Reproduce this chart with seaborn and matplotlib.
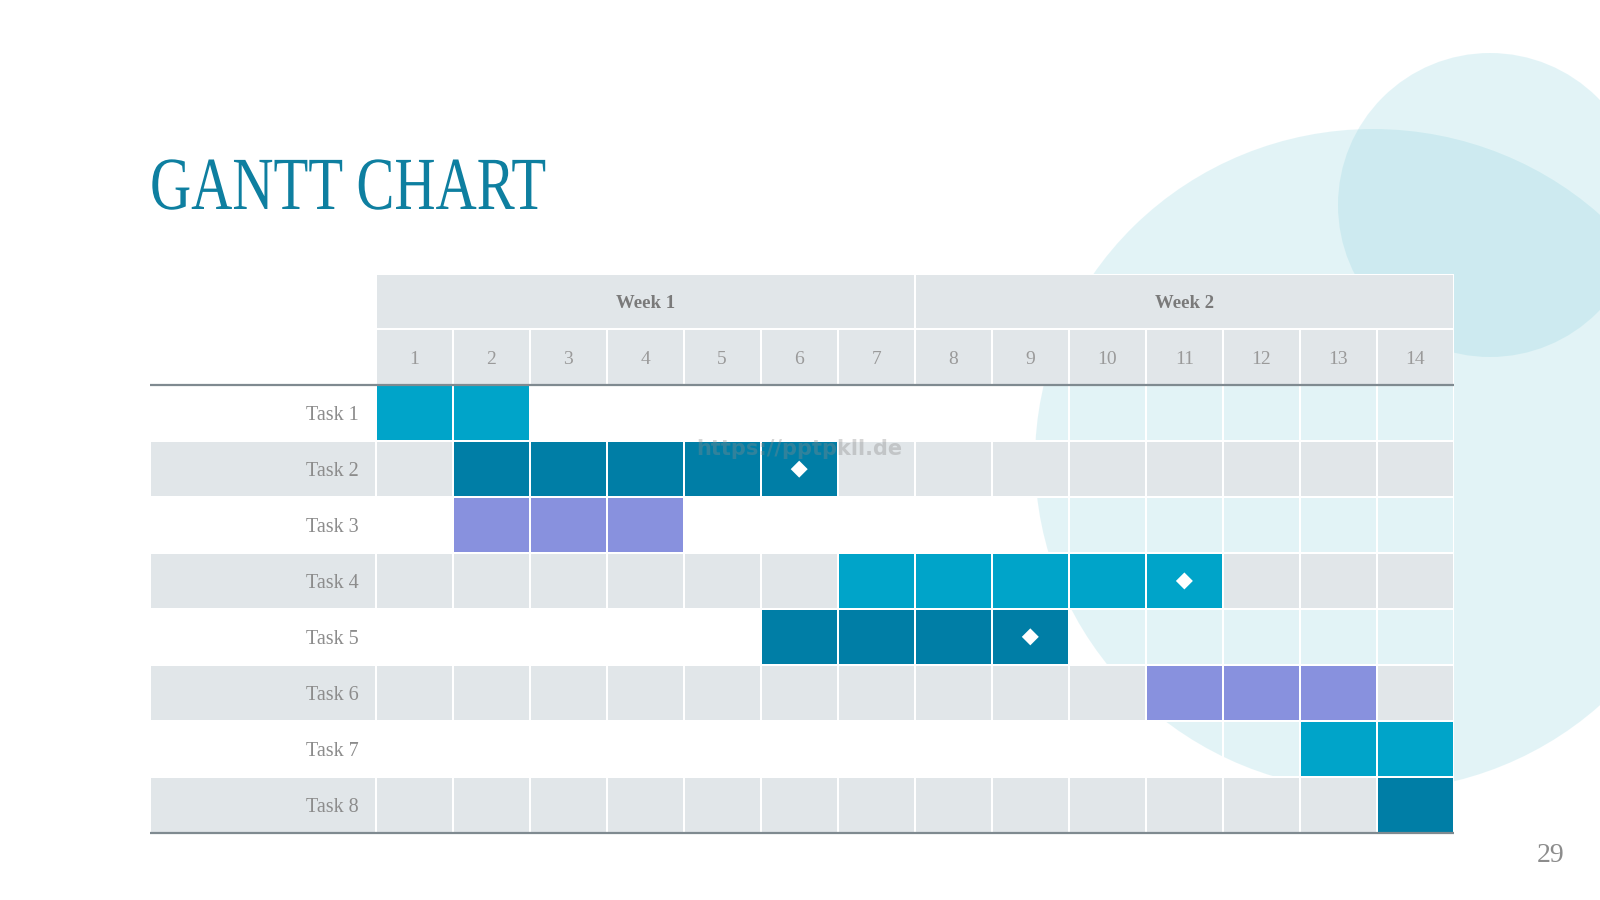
"""
Gantt chart slide (two weeks, eight tasks) drawn with seaborn heatmaps.
"""

import numpy as np
import pandas as pd
import seaborn as sns
import matplotlib.pyplot as plt
from matplotlib import patheffects
from matplotlib.colors import ListedColormap
from matplotlib.patches import Circle, Ellipse
from matplotlib.transforms import Affine2D


# ── Data ───────────────────────────────────────────────────────────
tasks = ['Task 1', 'Task 2', 'Task 3', 'Task 4', 'Task 5', 'Task 6', 'Task 7', 'Task 8']
days = list(range(1, 15))
weeks = ['Week 1', 'Week 2']

task_start = [1, 2, 2, 7, 6, 11, 13, 14]
task_end = [2, 6, 4, 11, 9, 13, 14, 14]
task_kind = ['light', 'dark', 'purple', 'light', 'dark', 'purple', 'light', 'dark']

milestone_task = ['Task 2', 'Task 4', 'Task 5']
milestone_day = [6, 11, 9]

# ── Style ──────────────────────────────────────────────────────────
W, H = 1600, 900
TEAL = '#0E7FA0'
GREY_CELL = '#E1E6E9'
KIND_COLORS = {'light': '#00A4C9', 'dark': '#007EA6', 'purple': '#8891DE'}
KIND_CODE = {'light': 2, 'dark': 3, 'purple': 4}
cmap = ListedColormap(['#FFFFFF00', GREY_CELL,
                       KIND_COLORS['light'], KIND_COLORS['dark'], KIND_COLORS['purple']])
LW = 1.2

# table layout in pixels
TABLE_L, GRID_L, GRID_R = 150, 375.5, 1454
TOP, ROW_H = 273.5, 55.9

sns.set_theme(style='white')
plt.rcParams['font.family'] = ['Liberation Serif', 'DejaVu Sans']


class Squeeze(patheffects.AbstractPathEffect):
    """narrow the glyphs horizontally (condensed title look)"""
    def __init__(self, sx, x0):
        super().__init__()
        self.sx = sx
        self.x0 = x0

    def draw_path(self, renderer, gc, tpath, affine, rgbFace=None):
        squeeze = Affine2D().translate(-self.x0, 0).scale(self.sx, 1).translate(self.x0, 0)
        renderer.draw_path(gc, tpath, affine + squeeze, rgbFace)


def px_axes(left, top, right, bottom, z=1):
    ax = fig.add_axes([left / W, 1 - bottom / H, (right - left) / W, (bottom - top) / H])
    ax.set_zorder(z)
    ax.patch.set_alpha(0)
    return ax


fig = plt.figure(figsize=(16, 9), dpi=100)

# ── Background circles ─────────────────────────────────────────────
ax_bg = px_axes(0, 0, W, H, z=0)
ax_bg.set_xlim(0, W)
ax_bg.set_ylim(H, 0)
ax_bg.axis('off')
ax_bg.add_patch(Ellipse((1373, 460), 676, 662, color='#8FD3DF', alpha=0.25, lw=0))
ax_bg.add_patch(Circle((1490, 205), 152, color='#8FD3DF', alpha=0.25, lw=0))

# ── Task grid ──────────────────────────────────────────────────────
grid = np.zeros((len(tasks), len(days)))
for i, (s, e, k) in enumerate(zip(task_start, task_end, task_kind)):
    grid[i, :] = i % 2
    grid[i, s - 1:e] = KIND_CODE[k]
grid_df = pd.DataFrame(grid, index=tasks, columns=days)

grid_top = TOP + 2 * ROW_H
grid_bottom = TOP + 10 * ROW_H

# label column stripes
ax_lab = px_axes(TABLE_L, grid_top, GRID_L, grid_bottom)
stripes = pd.DataFrame({'lab': [i % 2 for i in range(len(tasks))]}, index=tasks)
sns.heatmap(stripes, ax=ax_lab, cmap=cmap, vmin=-0.5, vmax=4.5, cbar=False,
            linewidths=LW, linecolor='white', xticklabels=False, yticklabels=False)

ax_grid = px_axes(GRID_L, grid_top, GRID_R, grid_bottom, z=2)
sns.heatmap(grid_df, ax=ax_grid, cmap=cmap, vmin=-0.5, vmax=4.5, cbar=False,
            linewidths=LW, linecolor='white', xticklabels=False, yticklabels=tasks)
ax_grid.tick_params(axis='y', length=0, pad=12, labelsize=14.5, labelcolor='#8C8C8C', rotation=0)
for lab in ax_grid.get_yticklabels():
    lab.set_verticalalignment('center_baseline')
ax_grid.set_xlabel('')
ax_grid.set_ylabel('')

# milestones
ms_x = [d - 0.5 for d in milestone_day]
ms_y = [tasks.index(t) + 0.5 for t in milestone_task]
sns.scatterplot(x=ms_x, y=ms_y, marker='D', s=75, color='white', edgecolor='none',
                ax=ax_grid, zorder=5)
ax_grid.set_xlim(0, len(days))
ax_grid.set_ylim(len(tasks), 0)

# ── Header: days and weeks ─────────────────────────────────────────
ax_days = px_axes(GRID_L, TOP + ROW_H, GRID_R, TOP + 2 * ROW_H)
sns.heatmap(pd.DataFrame([np.ones(len(days))], columns=days), ax=ax_days, cmap=cmap,
            vmin=-0.5, vmax=4.5, cbar=False, linewidths=LW, linecolor='white',
            annot=np.array([days]), fmt='d',
            annot_kws={'color': '#9A9A9A', 'size': 14, 'va': 'center_baseline'},
            xticklabels=False, yticklabels=False)

ax_weeks = px_axes(GRID_L, TOP, GRID_R, TOP + ROW_H)
sns.heatmap(pd.DataFrame([np.ones(len(weeks))], columns=weeks), ax=ax_weeks, cmap=cmap,
            vmin=-0.5, vmax=4.5, cbar=False, linewidths=LW, linecolor='white',
            annot=np.array([weeks]), fmt='',
            annot_kws={'color': '#7A7A7A', 'size': 13.5, 'weight': 'bold',
                       'va': 'center_baseline'},
            xticklabels=False, yticklabels=False)

# ── Overlay: rules, title, page number, watermark ──────────────────
ax_top = px_axes(0, 0, W, H, z=3)
ax_top.set_xlim(0, W)
ax_top.set_ylim(H, 0)
ax_top.axis('off')
ax_top.hlines([grid_top, grid_bottom], TABLE_L, GRID_R, color='#7F8A90', lw=1.6)

ax_top.text(799, 449, 'https://pptpkll.de', family='DejaVu Sans', weight='bold',
            fontsize=15, color='#8A8A8A', alpha=0.35, ha='center', va='center')

fig.text(TABLE_L / W, 1 - 209 / H, 'GANTT CHART', fontsize=54, color=TEAL,
         ha='left', va='baseline', path_effects=[Squeeze(0.76, TABLE_L)])
fig.text(1551 / W, 1 - 855 / H, '29', fontsize=20, color='#8C8C8C', ha='center', va='center')

fig.savefig('out.png', dpi=100)
print("Saved -> out.png")
